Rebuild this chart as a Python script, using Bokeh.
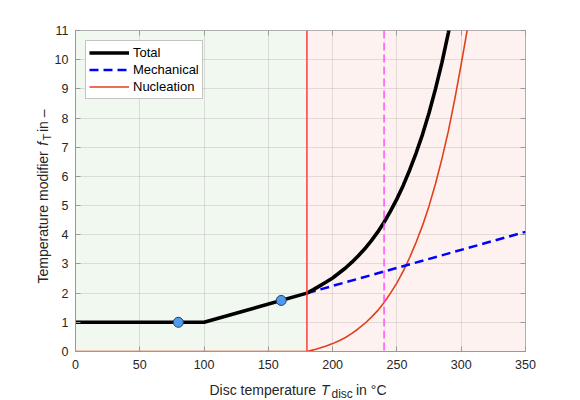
import math
from bokeh.plotting import figure
from bokeh.models import Range1d, FixedTicker, LinearAxis, Span, Label, Legend, LegendItem
from bokeh.embed import file_html
from bokeh.resources import INLINE

# ---- data ----
x_ticks = [0, 50, 100, 150, 200, 250, 300, 350]
y_ticks = [0, 1, 2, 3, 4, 5, 6, 7, 8, 9, 10, 11]

region_left = [0, 180]
region_right = [180, 350]
region_colors = ["#f1f8f0", "#fdf2f0"]

limit_temp = 180
marker_temp = 240

total_T = [0, 100, 180, 185, 190, 195, 200, 205, 210, 215, 220, 225, 230, 235, 240,
           245, 250, 255, 260, 265, 270, 275, 280, 285, 290, 295]
total_f = [1, 1, 2.00, 2.12, 2.25, 2.38, 2.52, 2.69, 2.86, 3.06, 3.28, 3.52, 3.79, 4.09, 4.43,
           4.81, 5.23, 5.70, 6.23, 6.81, 7.45, 8.18, 9.00, 9.90, 10.92, 12.10]

mech_T = [180, 350]
mech_f = [2.0, 4.1]

nuc_T = [0, 180, 185, 190, 195, 200, 205, 210, 215, 220, 225, 230, 235, 240, 245, 250,
         255, 260, 265, 270, 275, 280, 285, 290, 295, 300, 305, 310]
nuc_f = [0, 0, 0.055, 0.12, 0.19, 0.27, 0.37, 0.48, 0.62, 0.78, 0.96, 1.17, 1.40, 1.68, 2.00, 2.35,
         2.76, 3.23, 3.75, 4.33, 4.99, 5.75, 6.60, 7.55, 8.65, 9.85, 11.10, 12.45]

pts_T = [80, 160]
pts_f = [1.0, 1.75]

FONT = "Liberation Sans"
TXT = "#262626"
AX = "#999999"

p = figure(width=580, height=400, output_backend="svg", toolbar_location=None,
           x_range=Range1d(0, 350), y_range=Range1d(0, 11),
           min_border_left=75, min_border_right=55, min_border_top=30, min_border_bottom=49)
p.background_fill_color = "white"
p.outline_line_color = AX

# background regions
p.quad(left=region_left, right=region_right, bottom=[0, 0], top=[11, 11],
       fill_color=region_colors, line_color=None, level="image")

# grid
p.xgrid.ticker = FixedTicker(ticks=x_ticks)
p.ygrid.ticker = FixedTicker(ticks=y_ticks)
p.grid.grid_line_color = "#262626"
p.grid.grid_line_alpha = 0.12

for ax in (p.xaxis[0], p.yaxis[0]):
    ax.axis_line_color = AX
    ax.major_tick_line_color = AX
    ax.major_tick_in = 5
    ax.major_tick_out = 0
    ax.minor_tick_line_color = None
    ax.major_label_text_font = FONT
    ax.major_label_text_font_size = "12.5px"
    ax.major_label_text_color = TXT
p.xaxis.ticker = FixedTicker(ticks=x_ticks)
p.yaxis.ticker = FixedTicker(ticks=y_ticks)
p.xaxis.major_label_standoff = 8
p.yaxis.major_label_standoff = 7

# top / right axes (ticks only)
top = LinearAxis(ticker=FixedTicker(ticks=x_ticks),
                 major_label_overrides={t: "" for t in x_ticks})
right = LinearAxis(ticker=FixedTicker(ticks=y_ticks),
                   major_label_overrides={t: "" for t in y_ticks})
for ax in (top, right):
    ax.axis_line_color = None
    ax.major_tick_line_color = AX
    ax.major_tick_in = 5
    ax.major_tick_out = 0
    ax.minor_tick_line_color = None
    ax.major_label_standoff = 0
p.add_layout(top, "above")
p.add_layout(right, "right")

# lines
r_nuc = p.line(nuc_T, nuc_f, line_color="#e0401c", line_width=1.6)
r_mech = p.line(mech_T, mech_f, line_color="#0000ff", line_width=2.5, line_dash="9 5")
r_total = p.line(total_T, total_f, line_color="black", line_width=3.6)
p.scatter(pts_T, pts_f, size=10, fill_color="#4f9bf0", line_color="#1f3f6f", line_width=1)

p.add_layout(Span(location=limit_temp, dimension="height", line_color="#ff3b3b", line_width=1.5))
p.add_layout(Span(location=marker_temp, dimension="height", line_color="#ff44ff",
                  line_width=1.4, line_dash="8 4"))

legend = Legend(items=[LegendItem(label="Total", renderers=[r_total]),
                       LegendItem(label="Mechanical", renderers=[r_mech]),
                       LegendItem(label="Nucleation", renderers=[r_nuc])],
                location="top_left", margin=10, padding=3, spacing=0,
                glyph_width=40, glyph_height=17, label_height=17, label_standoff=4,
                label_text_font=FONT, label_text_font_size="13px", label_text_color="black",
                border_line_color="#8a8a8a", border_line_width=1,
                background_fill_color="white", background_fill_alpha=1)
p.add_layout(legend)

# axis labels built from pieces (canvas pixel units); spread over the side panels
# so that the space they reserve stays within the borders
def lab(x, y, text, size, side, style="normal", angle=0):
    p.add_layout(Label(x=x, y=y, x_units="canvas", y_units="canvas", text=text,
                       text_font=FONT, text_font_size=size,
                       text_font_style=style, text_color=TXT, angle=angle,
                       text_align="left", text_baseline="alphabetic"), side)

lab(209, 389, "Disc temperature ", "14px", "below")
lab(320.5, 389, "T", "14px", "right", "italic")
lab(331, 393.5, "disc", "12px", "right")
lab(355.5, 389, " in °C", "14px", "above")

a = math.pi / 2
lab(42, 283, "Temperature modifier ", "14px", "left", angle=a)
lab(42, 145.3, "f", "14px", "left", "italic", angle=a)
lab(46, 140, "T", "11px", "left", angle=a)
lab(42, 131.5, " in –", "14px", "right", angle=a)

open("out.html", "w").write(file_html(p, INLINE))
